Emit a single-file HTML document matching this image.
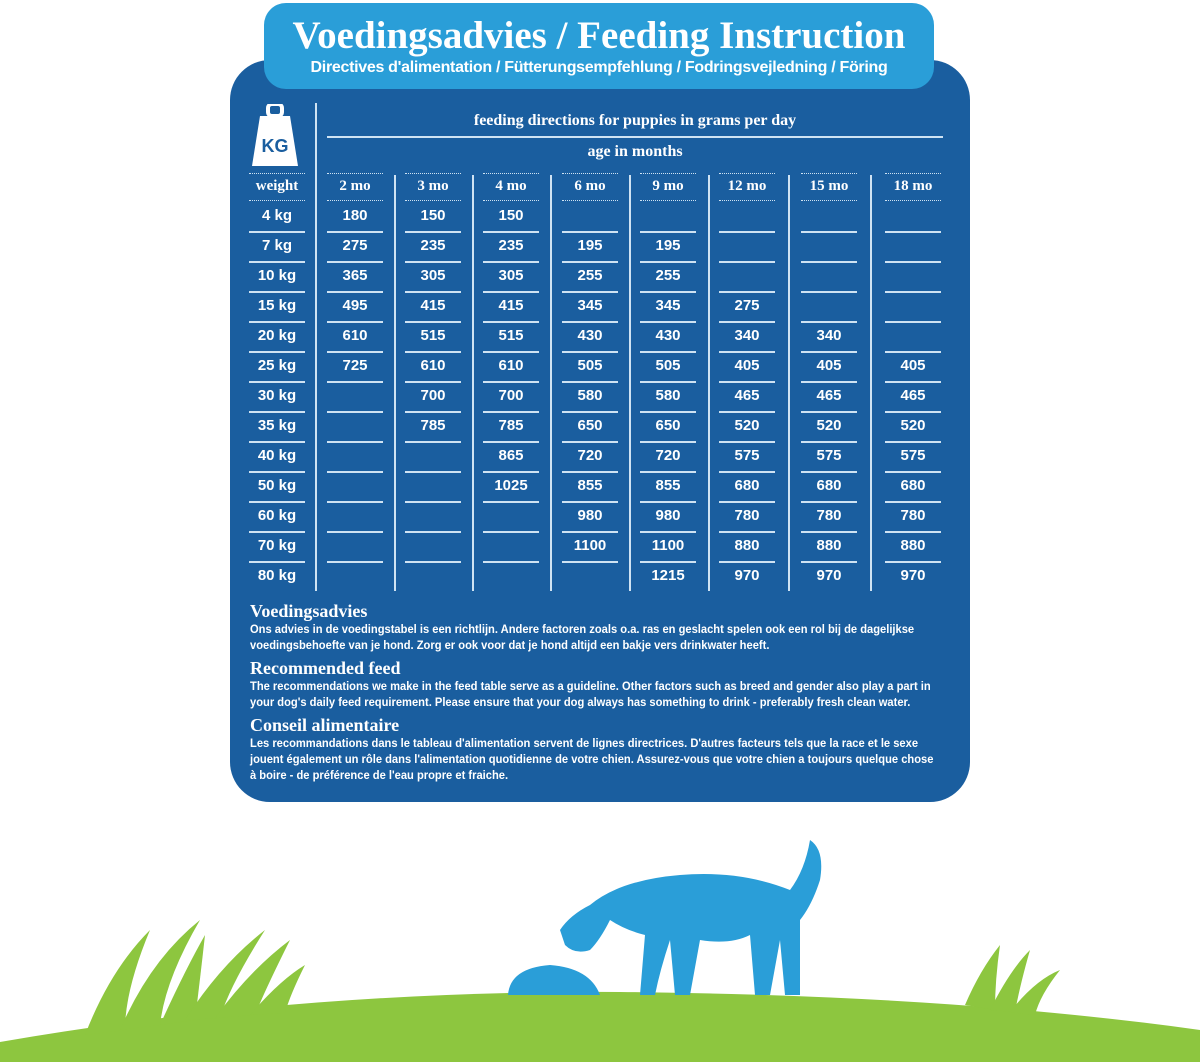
<!DOCTYPE html>
<html><head><meta charset="utf-8"><style>
body{margin:0;width:1200px;height:1062px;background:#fff;overflow:hidden;position:relative;font-family:"Liberation Sans",sans-serif;color:#fff}
.a{position:absolute}
.t{position:absolute;font-weight:bold;font-size:15px;text-align:center;width:56px}
.ln{position:absolute;height:2px;background:#cfe3f3;width:56px}
.vl{position:absolute;width:2px;background:#cfe3f3;top:175px;height:416px}
.p{position:absolute;left:250px;font-size:11.5px;font-weight:bold;line-height:16px;white-space:nowrap;transform:scaleX(0.97);transform-origin:left top}
.h{position:absolute;left:250px;font-family:"Liberation Serif",serif;font-weight:bold;font-size:18px}
</style></head><body>
<div class="a" style="left:230px;top:60px;width:740px;height:742px;background:#1a5e9f;border-radius:40px"></div>
<div class="a" style="left:264px;top:3px;width:670px;height:86px;background:#2a9ed8;border-radius:22px"></div>
<div class="a" style="left:264px;top:13px;width:670px;text-align:center;font-family:'Liberation Serif',serif;font-weight:bold;font-size:39px">Voedingsadvies / Feeding Instruction</div>
<div class="a" style="left:264px;top:59px;width:670px;text-align:center;font-weight:bold;font-size:16px;letter-spacing:-0.3px">Directives d'alimentation / Fütterungsempfehlung / Fodringsvejledning / Föring</div>
<svg class="a" style="left:250px;top:104px" width="50" height="64"><rect x="18" y="0" width="14" height="12" rx="4" fill="none" stroke="#fff" stroke-width="4"/><path d="M10 12 H40 L48 62 H2 Z" fill="#fff"/><text x="25" y="48" text-anchor="middle" font-family="Liberation Sans" font-weight="bold" font-size="18" fill="#1a5e9f">KG</text></svg>
<div class="a" style="left:315px;top:103px;width:2px;height:488px;background:#cfe3f3"></div>
<div class="a" style="left:327px;top:112px;width:616px;text-align:center;font-family:'Liberation Serif',serif;font-weight:bold;font-size:16px">feeding directions for puppies in grams per day</div>
<div class="a" style="left:327px;top:136px;width:616px;height:2px;background:#cfe3f3"></div>
<div class="a" style="left:327px;top:143px;width:616px;text-align:center;font-family:'Liberation Serif',serif;font-weight:bold;font-size:16px">age in months</div>
<div id="tb"></div>
<div class="h" style="top:601px">Voedingsadvies</div>
<div class="p" style="top:622px">Ons advies in de voedingstabel is een richtlijn. Andere factoren zoals o.a. ras en geslacht spelen ook een rol bij de dagelijkse<br>voedingsbehoefte van je hond. Zorg er ook voor dat je hond altijd een bakje vers drinkwater heeft.</div>
<div class="h" style="top:658px">Recommended feed</div>
<div class="p" style="top:679px">The recommendations we make in the feed table serve as a guideline. Other factors such as breed and gender also play a part in<br>your dog's daily feed requirement. Please ensure that your dog always has something to drink - preferably fresh clean water.</div>
<div class="h" style="top:715px">Conseil alimentaire</div>
<div class="p" style="top:736px">Les recommandations dans le tableau d'alimentation servent de lignes directrices. D'autres facteurs tels que la race et le sexe<br>jouent également un rôle dans l'alimentation quotidienne de votre chien. Assurez-vous que votre chien a toujours quelque chose<br>à boire - de préférence de l'eau propre et fraiche.</div>
<svg class="a" style="left:0;top:820px" width="1200" height="242">
<path d="M0 222 Q300 170 620 172 Q950 175 1200 210 L1200 242 L0 242Z" fill="#8dc63f"/>
<g fill="#8dc63f">
<path d="M85 215 Q110 150 150 110 Q125 170 125 210Z"/><path d="M120 210 Q150 140 200 100 Q165 160 160 205Z"/><path d="M160 205 Q185 150 205 115 Q200 160 195 200Z"/><path d="M185 200 Q220 145 265 110 Q230 165 220 198Z"/><path d="M215 198 Q250 150 290 120 Q265 170 255 195Z"/><path d="M250 195 Q280 160 305 145 Q290 175 285 193Z"/>
<path d="M965 185 Q980 150 1000 125 Q995 160 995 190Z"/><path d="M990 190 Q1010 150 1030 130 Q1020 165 1015 192Z"/><path d="M1010 192 Q1035 160 1060 150 Q1040 175 1035 195Z"/>
</g>
<g fill="#2a9ed8">
<path d="M508 175 Q510 148 550 145 Q590 148 600 175Z"/>
<path d="M560 110 Q570 95 590 85 Q620 60 680 55 Q740 50 790 70 Q805 50 810 20 Q825 30 820 60 Q812 85 800 100 L800 175 L785 175 L780 120 L770 175 L755 175 L750 115 Q730 125 700 120 L690 175 L675 175 L670 120 Q660 150 655 175 L640 175 L645 115 Q625 110 610 100 Q600 120 590 130 Q575 135 565 125 Z"/>
</g>
</svg>
<script>
var cols=[277,355,433,511,590,668,747,829,913];
var hd=["weight","2 mo","3 mo","4 mo","6 mo","9 mo","12 mo","15 mo","18 mo"];
var w=["4 kg","7 kg","10 kg","15 kg","20 kg","25 kg","30 kg","35 kg","40 kg","50 kg","60 kg","70 kg","80 kg"];
var d=[[180,150,150,"","","","",""],[275,235,235,195,195,"","",""],[365,305,305,255,255,"","",""],[495,415,415,345,345,275,"",""],[610,515,515,430,430,340,340,""],[725,610,610,505,505,405,405,405],["",700,700,580,580,465,465,465],["",785,785,650,650,520,520,520],["","",865,720,720,575,575,575],["","",1025,855,855,680,680,680],["","","",980,980,780,780,780],["","","",1100,1100,880,880,880],["","","","",1215,970,970,970]];
var h="";
[394,472,550,629,708,788,870].forEach(x=>h+=`<div class="vl" style="left:${x}px"></div>`);
cols.forEach((c,i)=>{var l=c-28;
h+=`<div class="ln" style="left:${l}px;top:173px;height:1px;border-top:1px dotted #cfe3f3;background:none"></div>`;
h+=`<div class="t" style="left:${l}px;top:178px;font-family:'Liberation Serif',serif">${hd[i]}</div>`;
h+=`<div class="ln" style="left:${l}px;top:200px;height:1px;border-top:1px dotted #cfe3f3;background:none"></div>`;
for(var r=0;r<13;r++){var v=i==0?w[r]:d[r][i-1];
h+=`<div class="t" style="left:${l}px;top:${207+30*r}px">${v}</div>`;
if(r<12)h+=`<div class="ln" style="left:${l}px;top:${231+30*r}px"></div>`;}
});
document.getElementById("tb").innerHTML=h;
</script>
</body></html>
